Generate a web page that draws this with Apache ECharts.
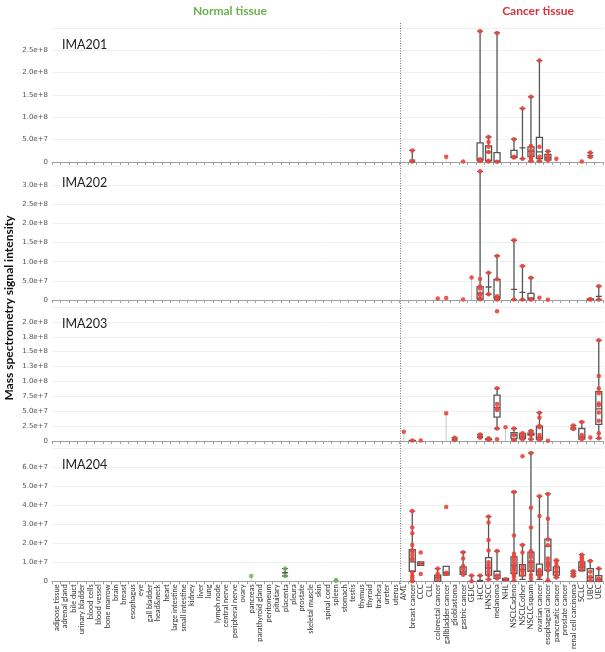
<!DOCTYPE html>
<html>
<head>
<meta charset="utf-8">
<script src="https://cdn.jsdelivr.net/npm/echarts@6/dist/echarts.min.js"></script>
<style>html,body{margin:0;padding:0;background:#fff}#c{width:605px;height:652px}</style>
</head>
<body>
<div id="c"></div>
<script>
const normalTissues = ['adipose tissue','adrenal gland','bile duct','urinary bladder','blood cells','blood vessel','bone marrow','brain','breast','esophagus','eye','gall bladder','head&neck','heart','large intestine','small intestine','kidney','liver','lung','lymph node','central nerve','peripheral nerve','ovary','pancreas','parathyroid gland','peritoneum','pituitary','placenta','pleura','prostate','skeletal muscle','skin','spinal cord','spleen','stomach','testis','thymus','thyroid','trachea','ureter','uterus'];
const cancerTypes = ['AML','breast cancer','CCC','CLL','colorectal cancer','gallbladder cancer','glioblastoma','gastric cancer','GEJC','HCC','HNSCC','melanoma','NHL','NSCLCadeno','NSCLCother','NSCLCsquam','ovarian cancer','esophageal cancer','pancreatic cancer','prostate cancer','renal cell carcinoma','SCLC','UBC','UEC'];
const categories = normalTissues.concat(cancerTypes);

const panelNames = ['IMA201','IMA202','IMA203','IMA204'];
const panelMax = [3e8, 3.5e8, 2.25e8, 7e7];
const panelInterval = [5e7, 5e7, 2.5e7, 1e7];

// boxes: [category, min, Q1, median, Q3, max]
const ima201Boxes = [
  ['breast cancer', 1e6, 4e6, 4e6, 4e6, 2.6e7],
  ['HCC', 2e6, 4e6, 6e6, 4.3e7, 2.93e8],
  ['HNSCC', 1e6, 3e6, 2.2e7, 3.6e7, 5.6e7],
  ['melanoma', 5e5, 1e6, 2e6, 2.1e7, 2.89e8],
  ['NSCLCadeno', 1e7, 1e7, 1.2e7, 2.6e7, 5.1e7],
  ['NSCLCother', 7.5e6, 3.15e7, 3.15e7, 3.15e7, 1.2e8],
  ['NSCLCsquam', 2e6, 1.2e7, 2.4e7, 3.4e7, 1.46e8],
  ['ovarian cancer', 2e6, 7.5e6, 2.25e7, 5.5e7, 2.27e8],
  ['esophageal cancer', 4e6, 4e6, 1e7, 1.7e7, 2.4e7],
  ['UBC', 1.1e7, 1.5e7, 1.5e7, 1.5e7, 2.1e7]
];
const ima201Points = [
  ['breast cancer', [2.6e7, 1e6]],
  ['gallbladder cancer', [1.2e7]],
  ['gastric cancer', [1e6]],
  ['HCC', [2.93e8, 6e6, 4e6, 3e6, 2e6]],
  ['HNSCC', [5.6e7, 4.5e7, 3.4e7, 2.25e7, 3e6, 1e6]],
  ['melanoma', [2.89e8, 5e5]],
  ['NSCLCadeno', [5.1e7, 1.2e7, 1e7]],
  ['NSCLCother', [1.2e8, 7.5e6]],
  ['NSCLCsquam', [1.46e8, 3.6e7, 3.4e7, 2.5e7, 1.8e7, 1.2e7, 8e6, 2e6]],
  ['ovarian cancer', [2.27e8, 3.4e7, 1.2e7, 2e6]],
  ['esophageal cancer', [2.4e7, 1.4e7, 7.5e6, 4e6]],
  ['pancreatic cancer', [7.5e6]],
  ['SCLC', [1e6]],
  ['UBC', [2.1e7, 1.1e7]]
];
const ima201Stems = [['gallbladder cancer', 1.2e7], ['pancreatic cancer', 7.5e6]];

const ima202Boxes = [
  ['HCC', 2e6, 3e6, 1.7e7, 3.5e7, 3.36e8],
  ['HNSCC', 1.5e7, 3.4e7, 3.4e7, 3.4e7, 7.1e7],
  ['melanoma', 1e6, 4e6, 9e6, 5.4e7, 1.15e8],
  ['NSCLCadeno', 1e6, 2.8e7, 2.8e7, 2.8e7, 1.56e8],
  ['NSCLCother', 1e6, 2e7, 2e7, 2e7, 8.85e7],
  ['NSCLCsquam', 2e6, 2e6, 5e6, 1.75e7, 5.8e7],
  ['UBC', 1e6, 1e6, 2e6, 3e6, 3e6],
  ['UEC', 1e6, 9.6e6, 9.6e6, 9.6e6, 3.6e7]
];
const ima202Points = [
  ['colorectal cancer', [4e6]],
  ['gallbladder cancer', [5e6]],
  ['gastric cancer', [1e6]],
  ['GEJC', [5.9e7]],
  ['HCC', [3.36e8, 5.5e7, 3.6e7, 3e7, 1.7e7, 1.3e7, 3e6, 2e6]],
  ['HNSCC', [7.1e7, 1.5e7]],
  ['melanoma', [1.15e8, 5.4e7, 1e7, 6e6, 3e6, 1e6]],
  ['NSCLCadeno', [1.56e8, 1e6]],
  ['NSCLCother', [8.85e7, 1e6]],
  ['NSCLCsquam', [5.8e7, 2e6, 1e6]],
  ['ovarian cancer', [6e6]],
  ['esophageal cancer', [5e5]],
  ['UBC', [1e6, 2e6]],
  ['UEC', [3.6e7, 1e6]]
];
const ima202Stems = [['GEJC', 5.9e7]];

const ima203Boxes = [
  ['breast cancer', 5e5, 5e5, 1e6, 1e6, 1e6],
  ['glioblastoma', 1.7e6, 3e6, 3e6, 3e6, 5.5e6],
  ['HCC', 5.5e6, 8e6, 8e6, 8e6, 1.1e7],
  ['HNSCC', 2e6, 2e6, 3e6, 3e6, 4.5e6],
  ['melanoma', 2.1e7, 4e7, 5.6e7, 7.7e7, 8.85e7],
  ['NSCLCadeno', 1.7e6, 4.5e6, 1e7, 1.4e7, 2.1e7],
  ['NSCLCother', 3e6, 4.5e6, 7e6, 1.2e7, 1.3e7],
  ['NSCLCsquam', 3e6, 1e7, 1.2e7, 1.3e7, 1.7e7],
  ['ovarian cancer', 2e6, 3e6, 6e6, 2.5e7, 4.75e7],
  ['renal cell carcinoma', 2e7, 2.2e7, 2.2e7, 2.2e7, 2.6e7],
  ['SCLC', 3e6, 3e6, 7e6, 2.1e7, 3.2e7],
  ['UEC', 4.5e6, 2.8e7, 5.4e7, 8.3e7, 1.69e8]
];
const ima203Points = [
  ['AML', [1.56e7]],
  ['breast cancer', [1e6]],
  ['CCC', [1e6]],
  ['gallbladder cancer', [4.65e7]],
  ['glioblastoma', [5.5e6, 1.7e6]],
  ['HCC', [1.1e7, 5.5e6]],
  ['HNSCC', [4.5e6, 2e6]],
  ['melanoma', [2.18e8, 8.85e7, 6.2e7, 5.5e7, 5.2e7, 2.1e7, 3e6]],
  ['NHL', [2.3e7]],
  ['NSCLCadeno', [2.1e7, 1e7, 1.7e6]],
  ['NSCLCother', [1.3e7, 1e7, 7e6, 3e6]],
  ['NSCLCsquam', [1.7e7, 1.3e7, 1e7, 3e6]],
  ['ovarian cancer', [4.75e7, 3.9e7, 2.5e7, 2.3e7, 1e7, 6e6, 2e6]],
  ['esophageal cancer', [5e5]],
  ['renal cell carcinoma', [2.6e7, 2.2e7, 2e7]],
  ['SCLC', [3.2e7, 1e7, 6e6, 3e6]],
  ['UBC', [6e6]],
  ['UEC', [1.69e8, 1.09e8, 8.8e7, 8e7, 6.3e7, 6e7, 4.8e7, 3.4e7, 1.3e7, 4.5e6]]
];
const ima203Stems = [['AML', 1.56e7], ['gallbladder cancer', 4.65e7], ['NHL', 2.3e7], ['UBC', 6e6]];

const ima204Boxes = [
  ['breast cancer', 0, 5.3e6, 1.02e7, 1.66e7, 3.69e7],
  ['CCC', 8.4e6, 8.4e6, 9.3e6, 1.02e7, 1.02e7],
  ['colorectal cancer', 0, 0, 2e6, 3.3e6, 6.7e6],
  ['gallbladder cancer', 3.3e6, 3.3e6, 4.5e6, 7.9e6, 7.9e6],
  ['gastric cancer', 3.6e6, 3.6e6, 5e6, 7.6e6, 1.53e7],
  ['GEJC', 0, 0, 0, 0, 3e6],
  ['HCC', 0, 5e5, 5e5, 5e5, 3e6],
  ['HNSCC', 1e6, 3.3e6, 7e6, 1.24e7, 3.4e7],
  ['melanoma', 1.5e6, 1.5e6, 3e6, 5.3e6, 1.59e7],
  ['NHL', 5e5, 5e5, 1e6, 1.5e6, 1.5e6],
  ['NSCLCadeno', 0, 4.1e6, 8.4e6, 1.28e7, 4.69e7],
  ['NSCLCother', 1e6, 2.9e6, 6.2e6, 8.8e6, 1.91e7],
  ['NSCLCsquam', 0, 5.3e6, 1e7, 1.53e7, 6.74e7],
  ['ovarian cancer', 1e6, 3.3e6, 5e6, 9e6, 4.47e7],
  ['esophageal cancer', 0, 5.8e6, 1.85e7, 2.22e7, 4.59e7],
  ['pancreatic cancer', 2e6, 3.3e6, 5e6, 7.6e6, 1.1e7],
  ['renal cell carcinoma', 2.8e6, 4.2e6, 4.2e6, 4.2e6, 5.3e6],
  ['SCLC', 5.5e6, 5.8e6, 7.5e6, 1.02e7, 1.4e7],
  ['UBC', 0, 0, 2e6, 6.7e6, 1.07e7],
  ['UEC', 0, 0, 1e6, 3e6, 6.7e6]
];
const ima204Points = [
  ['breast cancer', [3.69e7, 2.83e7, 2.52e7, 1.91e7, 1.63e7, 1.55e7, 1.38e7, 1.2e7, 1.12e7, 4.8e6, 3e6, 2.2e6, 5e5, 0]],
  ['CCC', [1.52e7, 9.3e6, 3.8e6]],
  ['colorectal cancer', [6.7e6, 4e6, 2.5e6, 1e6]],
  ['gallbladder cancer', [3.9e7, 4.5e6, 4e6]],
  ['gastric cancer', [1.53e7, 1.2e7, 8e6, 6.5e6, 4.5e6, 3.5e6]],
  ['GEJC', [3e6, 0]],
  ['HCC', [3e6]],
  ['HNSCC', [3.4e7, 3.09e7, 2.17e7, 1.62e7, 1e7, 8.5e6, 7e6, 5e6, 3.3e6, 1e6]],
  ['melanoma', [1.59e7, 3e6, 1.5e6]],
  ['NHL', [1e6]],
  ['NSCLCadeno', [4.69e7, 2.4e7, 1.45e7, 1.33e7, 1.17e7, 1e7, 8.4e6, 7.5e6, 6.7e6, 5.8e6, 4.1e6, 3.3e6, 2.4e6, 5e5]],
  ['NSCLCother', [6.57e7, 1.91e7, 1.52e7, 7.6e6, 6e6, 5e6, 3.3e6]],
  ['NSCLCsquam', [6.74e7, 3.86e7, 2.83e7, 1.59e7, 1.45e7, 1.28e7, 1.05e7, 9.3e6, 7.6e6, 5.8e6, 3.3e6, 1.5e6]],
  ['ovarian cancer', [4.47e7, 3.43e7, 6e6, 5.2e6, 4e6, 3.3e6, 2.4e6]],
  ['esophageal cancer', [4.59e7, 3.29e7, 2.2e7, 1.9e7, 1.2e7, 1.02e7, 9.3e6, 8.4e6, 7.6e6, 5.8e6, 5e5]],
  ['pancreatic cancer', [1.1e7, 1.02e7, 8.5e6, 6.7e6, 5e6, 3.3e6, 2e6]],
  ['renal cell carcinoma', [5.3e6, 3.6e6, 2.8e6]],
  ['SCLC', [1.4e7, 1.28e7, 1.2e7, 1.1e7, 9.3e6, 8.4e6, 7.6e6, 6.2e6]],
  ['UBC', [1.07e7, 5e6, 2.4e6, 5e5]],
  ['UEC', [6.7e6, 1.5e6, 5e5]]
];
const ima204Stems = [];
const ima204NormalBoxes = [['placenta', 2.8e6, 4.5e6, 4.5e6, 4.5e6, 6.7e6]];
const ima204NormalPoints = [['pancreas', [2.8e6]], ['placenta', [6.7e6, 2.8e6]], ['spleen', [4e5, 5e5]]];
const ima204NormalStems = [['pancreas', 2.8e6]];

const panelBoxes = [ima201Boxes, ima202Boxes, ima203Boxes, ima204Boxes];
const panelPoints = [ima201Points, ima202Points, ima203Points, ima204Points];
const panelStems = [ima201Stems, ima202Stems, ima203Stems, ima204Stems.concat(ima204NormalStems)];
const normalBoxesByPanel = [[], [], [], ima204NormalBoxes];
const normalPointsByPanel = [[], [], [], ima204NormalPoints];

const gridTops = [28, 166, 307, 448];
const gridH = 134;
const RED = '#e8453c', GREEN = '#6ab04c';

function fmt(v) { return v === 0 ? '0' : v.toExponential(1); }
function flatPts(list) { const o = []; list.forEach(([c, vals]) => vals.forEach(v => o.push([c, v]))); return o; }

const grids = [], xAxes = [], yAxes = [], series = [], titles = [];
for (let p = 0; p < 4; p++) {
  grids.push({ left: 52, right: 2, top: gridTops[p], height: gridH });
  xAxes.push({
    type: 'category', gridIndex: p, data: categories, boundaryGap: true,
    axisLine: { lineStyle: { color: '#a0a0a0', width: 1 } },
    axisTick: { show: true, interval: 0, length: 3, lineStyle: { color: '#a0a0a0' } },
    axisLabel: p === 3 ? { show: true, interval: 0, rotate: 90, fontSize: 7.5, color: '#333', fontFamily: 'Lato', margin: 3 } : { show: false },
    splitLine: { show: false }
  });
  yAxes.push({
    type: 'value', gridIndex: p, min: 0, max: panelMax[p], interval: panelInterval[p],
    axisLine: { show: false }, axisTick: { show: false },
    axisLabel: { fontSize: 7, color: '#555', fontFamily: 'DejaVu Sans', showMaxLabel: false, formatter: fmt, margin: 4 },
    splitLine: { lineStyle: { color: '#f0f0f0', width: 1 } }
  });
  titles.push({ text: panelNames[p], left: 57, top: gridTops[p] + 5, textStyle: { fontSize: 12.5, fontWeight: 'normal', color: '#222', fontFamily: 'Lato' } });
  series.push({
    type: 'bar', xAxisIndex: p, yAxisIndex: p, barWidth: 1, silent: true, z: 1,
    itemStyle: { color: '#c8c8c8' }, data: panelStems[p]
  });
  const boxStyle = { color: 'rgba(255,255,255,0)', borderColor: '#555', borderWidth: 1.3 };
  series.push({
    type: 'boxplot', xAxisIndex: p, yAxisIndex: p, boxWidth: [6, 6], z: 2, silent: true,
    encode: { x: 0, y: [1, 2, 3, 4, 5] },
    itemStyle: boxStyle,
    data: panelBoxes[p].concat(normalBoxesByPanel[p])
  });
  series.push({
    type: 'scatter', xAxisIndex: p, yAxisIndex: p, symbol: 'circle', symbolSize: 4.5, z: 5, silent: true,
    itemStyle: { color: RED, opacity: 0.9 }, data: flatPts(panelPoints[p])
  });
  series.push({
    type: 'scatter', xAxisIndex: p, yAxisIndex: p, symbol: 'circle', symbolSize: 4.5, z: 5, silent: true,
    itemStyle: { color: GREEN }, data: flatPts(normalPointsByPanel[p])
  });
}
titles.push({ text: 'Normal tissue', left: 225, top: 0, textAlign: 'center', textStyle: { fontSize: 12, fontWeight: 'bold', color: GREEN, fontFamily: 'Lato' } });
titles.push({ text: 'Cancer tissue', left: 533, top: 0, textAlign: 'center', textStyle: { fontSize: 12, fontWeight: 'bold', color: '#d9303c', fontFamily: 'Lato' } });

const chart = echarts.init(document.getElementById('c'), null, { renderer: 'canvas' });
chart.setOption({
  animation: false, backgroundColor: '#fff',
  title: titles, grid: grids, xAxis: xAxes, yAxis: yAxes, series: series
});
const xa = chart.convertToPixel({ xAxisIndex: 0 }, 'uterus');
const xb = chart.convertToPixel({ xAxisIndex: 0 }, 'AML');
const xSep = Math.round((xa + xb) / 2) + 0.5;
chart.setOption({
  graphic: [
    { type: 'line', shape: { x1: xSep, y1: gridTops[0] - 5, x2: xSep, y2: gridTops[3] + gridH + 8 },
      style: { stroke: '#777', lineWidth: 1, lineDash: [1, 1.5] }, z: 10, silent: true },
    { type: 'text', x: 9, y: 308, rotation: Math.PI / 2,
      style: { text: 'Mass spectrometry signal intensity', font: 'bold 12px Lato', fill: '#111', align: 'center', verticalAlign: 'middle' } }
  ]
});
</script>
</body>
</html>
